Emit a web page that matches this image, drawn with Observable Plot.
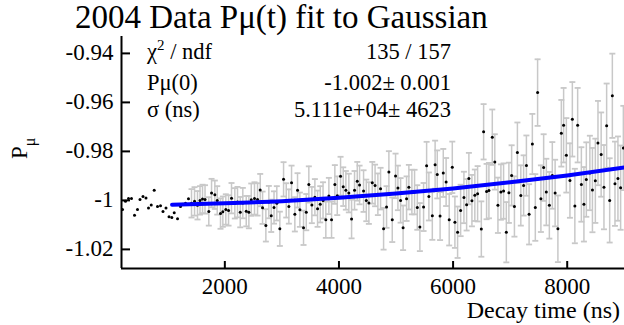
<!DOCTYPE html>
<html><head><meta charset="utf-8">
<script src="https://cdn.jsdelivr.net/npm/d3@7"></script>
<script src="https://cdn.jsdelivr.net/npm/@observablehq/plot@0.6"></script>
<style>
html,body{margin:0;padding:0;background:#fff;overflow:hidden;}
#chart{width:624px;height:325px;}
</style></head><body><div id="chart"></div>
<script>
// Decay time (ns)
const time = [207,259,312,364,417,469,513,566,618,662,710,762,820,873,916,969,1022,1071,1113,1171,
1223,1267,1311,1363,1416,1469,1521,1565,1609,1653,1719,1767,1825,1867,1924,1965,2017,2065,2117,2175,
2222,2270,2315,2375,2421,2463,2520,2573,2620,2661,2719,2771,2813,2862,2911,2964,3029,3076,3122,3169,
3227,3274,3315,3379,3427,3472,3525,3578,3625,3672,3721,3770,3823,3870,3928,3970,4028,4075,4121,4173,
4221,4273,4321,4361,4431,4479,4524,4584,4633,4682,4729,4782,4834,4875,4934,4992,5033,5080,5124,5185,
5225,5278,5325,5373,5418,5483,5536,5576,5636,5685,5723,5772,5828,5878,5932,5986,6032,6079,6132,6190,
6237,6277,6330,6381,6430,6495,6535,6587,6628,6687,6731,6786,6838,6885,6933,6978,7026,7075,7127,7187,
7236,7285,7332,7389,7441,7481,7539,7587,7634,7687,7739,7788,7837,7897,7937,7985,8048,8090,8134,8183,
8248,8293,8335,8397,8442,8493,8539,8595,8644,8691,8744,8791,8837,8889,8936,8984];
// P_mu values
const pmu = [-1.0037,-1.0004,-0.9992,-0.9992,-1.0061,-1.0037,-0.9996,-0.9984,-0.9990,-1.0031,
-1.0019,-0.9959,-1.0025,-1.0022,-1.0045,-1.0031,-1.0067,-1.0070,-1.0050,-1.0075,
-1.0025,-1.0016,-1.0012,-0.9993,-1.0012,-1.0004,-1.0020,-1.0000,-0.9994,-0.9996,
-1.0045,-0.9970,-0.9977,-1.0000,-1.0054,-1.0046,-1.0037,-1.0041,-0.9991,-1.0012,
-1.0007,-1.0048,-1.0011,-1.0044,-1.0048,-0.9997,-0.9992,-0.9996,-0.9958,-1.0030,
-1.0102,-1.0007,-1.0063,-1.0029,-1.0012,-1.0116,-0.9914,-1.0000,-1.0025,-0.9928,
-1.0057,-0.9959,-1.0038,-1.0112,-1.0048,-0.9935,-1.0019,-0.9987,-1.0034,-1.0016,
-1.0000,-1.0079,-0.9982,-1.0079,-0.9935,-0.9981,-0.9901,-0.9944,-0.9959,-0.9970,
-1.0076,-0.9959,-0.9922,-0.9937,-0.9962,-1.0000,-1.0011,-0.9928,-0.9939,-0.9975,
-0.9952,-1.0116,-1.0027,-0.9884,-1.0079,-0.9900,-0.9949,-1.0000,-1.0112,-0.9993,
-0.9946,-0.9966,-0.9966,-1.0029,-1.0109,-1.0027,-0.9859,-0.9984,-1.0063,-0.9854,
-0.9894,-1.0064,-0.9888,-0.9925,-1.0079,-0.9865,-1.0089,-1.0130,-1.0041,-0.9988,
-1.0018,-0.9911,-1.0001,-0.9979,-0.9973,-1.0117,-0.9720,-0.9964,-0.9960,-0.9742,
-0.9843,-1.0020,-0.9966,-0.9962,-1.0130,-0.9969,-0.9898,-1.0025,-0.9805,-0.9980,
-0.9939,-0.9858,-1.0057,-0.9770,-1.0029,-0.9560,-0.9993,-0.9866,-0.9966,-1.0020,
-0.9898,-0.9970,-1.0116,-0.9726,-0.9693,-0.9816,-0.9919,-0.9669,-1.0023,-0.9693,
-0.9935,-1.0016,-0.9915,-0.9888,-0.9958,-0.9920,-0.9766,-0.9813,-0.9946,-0.9695,
-1.0000,-0.9573,-0.9932,-0.9911,-0.9948,-0.9786];
// error on P_mu (0 = no bar drawn)
const perr = [0,0,0,0,0,0,0,0,0,0,0,0,0,0,0,0,0,0,0,0,0,0,0,0,
0.0058,0.0058,0.0058,0.0058,0.0058,0.0058,0.0058,0.0058,0.0058,0.0058,
0.0062,0.0062,0.0062,0.0062,0.0062,0.0062,0.0062,0.0062,0.0062,0.0062,
0.0066,0.0066,0.0066,0.0066,0.0066,0.0066,0.0066,0.0066,0.0066,0.0066,
0.0070,0.0070,0.0070,0.0070,0.0070,0.0070,0.0070,0.0070,0.0070,0.0070,
0.0074,0.0074,0.0074,0.0074,0.0074,0.0074,0.0074,0.0074,0.0074,0.0074,
0.0079,0.0079,0.0079,0.0079,0.0079,0.0079,0.0079,0.0079,0.0079,0.0079,
0.0085,0.0085,0.0085,0.0085,0.0085,0.0085,0.0085,0.0085,0.0085,0.0085,
0.0091,0.0091,0.0091,0.0091,0.0091,0.0091,0.0091,0.0091,0.0091,0.0091,
0.0098,0.0098,0.0098,0.0098,0.0098,0.0098,0.0098,0.0098,0.0098,0.0098,
0.0105,0.0105,0.0105,0.0105,0.0105,0.0105,0.0105,0.0105,0.0105,0.0105,
0.0113,0.0113,0.0113,0.0113,0.0113,0.0113,0.0113,0.0113,0.0113,0.0113,
0.0123,0.0123,0.0123,0.0123,0.0123,0.0123,0.0123,0.0123,0.0123,0.0123,
0.0136,0.0136,0.0136,0.0136,0.0136,0.0136,0.0136,0.0136,0.0136,0.0136,
0.0152,0.0152,0.0152,0.0152,0.0152,0.0152,0.0152,0.0152,0.0152,0.0152,
0.0172,0.0172,0.0172,0.0172,0.0172,0.0172,0.0172,0.0172,0.0172,0.0172,0.0172,0.0172];
// Gaussian fit curve
const fitTime = [1075,2000,3000,4000,5000,6000,7000,8000,9000];
const fitP = [-1.0018,-1.0012,-1.0003,-0.9989,-0.9972,-0.9951,-0.9926,-0.9898,-0.9866];
const xTicks = [2000,4000,6000,8000];
const yTicks = [-0.94,-0.96,-0.98,-1,-1.02];
const xDomain = [189, 9004];
const yDomain = [-1.0278, -0.9331];
const statsLabels = ["χ2 / ndf", "Pμ(0)", "σ (ns)"];
const statsValues = ["135 / 157", "-1.002± 0.001", "5.111e+04± 4623"];

const points = time.map((t,i)=>({t, p: pmu[i], e: perr[i]}));
const withErr = points.filter(d=>d.e>0);
const fit = fitTime.map((t,i)=>({t, p: fitP[i]}));
const capSymbol = {draw(ctx){ ctx.moveTo(-3,0); ctx.lineTo(3,0); }};

const W=624,H=325,mL=121,mR=0,mT=36,mB=57;
const FONT = "'Liberation Serif','Times New Roman',serif";
const gray = "#c8c8c8";
const plot = Plot.plot({
  width: W, height: H, marginLeft: mL, marginRight: mR, marginTop: mT, marginBottom: mB,
  x: {domain: xDomain, axis: null},
  y: {domain: yDomain, axis: null},
  style: {fontFamily: FONT, fontSize: "23px", background: "white", color: "black", overflow: "visible"},
  marks: [
    Plot.ruleX(withErr, {x: "t", y1: d=>d.p-d.e, y2: d=>d.p+d.e, stroke: gray, strokeWidth: 1.5, clip: true}),
    Plot.dot(withErr, {x: "t", y: d=>d.p+d.e, symbol: capSymbol, stroke: gray, strokeWidth: 1.8, fill: "none", clip: true}),
    Plot.dot(withErr, {x: "t", y: d=>d.p-d.e, symbol: capSymbol, stroke: gray, strokeWidth: 1.8, fill: "none", clip: true}),
    Plot.dot(points, {x: "t", y: "p", r: 1.5, fill: "black", stroke: null, clip: true}),
    Plot.line(fit, {x: "t", y: "p", stroke: "#0000ff", strokeWidth: 4, curve: "monotone-x", clip: true}),
    Plot.ruleX([xDomain[0]], {stroke: "black", strokeWidth: 2}),
    Plot.ruleY([yDomain[0]], {stroke: "black", strokeWidth: 2}),
    Plot.tickY(yTicks, {y: d=>d, insetRight: W-mL-mR-9, stroke: "black", strokeWidth: 2}),
    Plot.tickX(xTicks, {x: d=>d, insetTop: H-mT-mB-7, stroke: "black", strokeWidth: 2}),
    Plot.axisY({ticks: yTicks, tickSize: 0, tickPadding: 8, tickFormat: d=>String(d), fontSize: 23, dy: -1, label: null}),
    Plot.axisX({ticks: xTicks, tickSize: 0, tickPadding: 9, tickFormat: d=>String(d), fontSize: 23, label: null})
  ]
});
document.getElementById("chart").appendChild(plot);

const svg = d3.select(plot);
const g = svg.append("g").attr("font-family", FONT).attr("fill", "black").attr("text-anchor", "start");
g.append("text").attr("x", 75).attr("y", 28).attr("font-size", 33).text("2004 Data Pμ(t) fit to Gaussian");
// stats box
const rowsY = [59, 90, 117];
const SF = 22.5;
const chi = g.append("text").attr("x", 147).attr("y", rowsY[0]).attr("font-size", SF);
chi.append("tspan").text("χ");
chi.append("tspan").attr("font-size", 15).attr("dy", -9).text("2");
chi.append("tspan").attr("dy", 9).text(" / ndf");
statsLabels.slice(1).forEach((s,i)=>g.append("text").attr("x",147).attr("y",rowsY[i+1]).attr("font-size",SF).text(s));
statsValues.forEach((s,i)=>g.append("text").attr("x",451).attr("y",rowsY[i]).attr("font-size",SF).attr("text-anchor","end").text(s));
// axis titles
const yt = g.append("text").attr("transform","translate(27,159) rotate(-90)").attr("font-size",23);
yt.append("tspan").text("P");
yt.append("tspan").attr("font-size",16).attr("dy",8).text("μ");
g.append("text").attr("x",620).attr("y",318).attr("font-size",24).attr("text-anchor","end").text("Decay time (ns)");
</script></body></html>
